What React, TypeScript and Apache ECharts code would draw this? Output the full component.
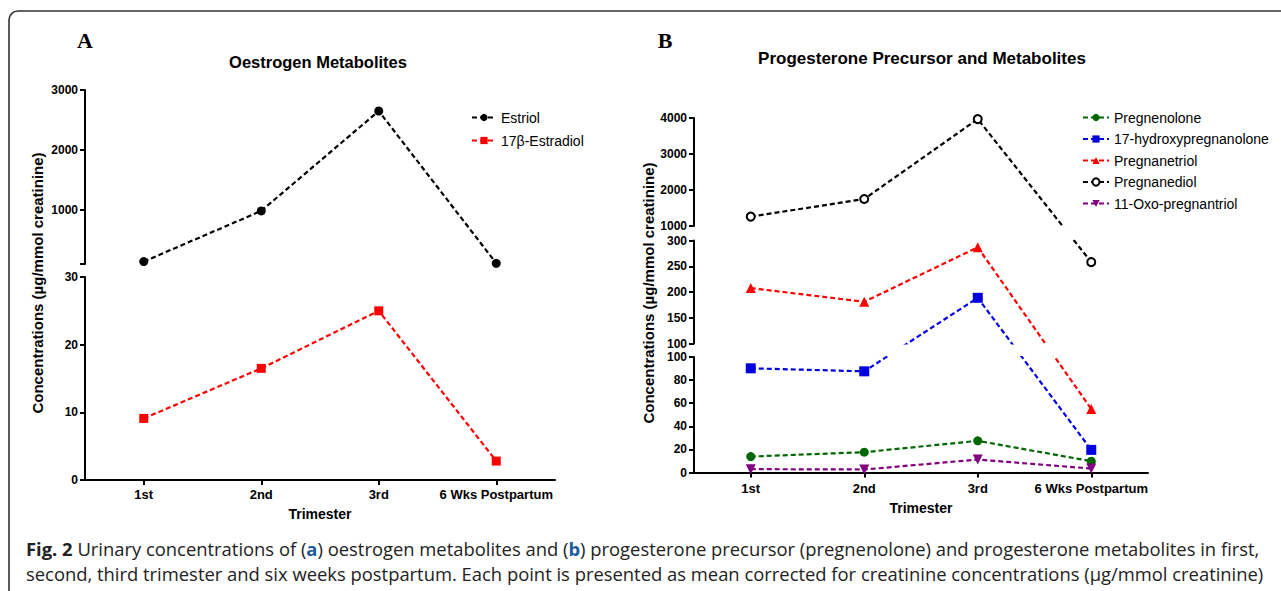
import React, { useEffect, useRef } from "react";
import * as echarts from "echarts";

// ---------------- data ----------------
const categories = ["1st", "2nd", "3rd", "6 Wks Postpartum"];

// Panel A (µg/mmol creatinine)
const estriol = [140, 985, 2650, 112];
const estradiol = [9.1, 16.5, 25.0, 2.8];

// Panel B (µg/mmol creatinine)
const pregnenolone = [13.8, 17.6, 27.4, 9.8];
const hydroxyPregnanolone = [90.2, 87.6, 188.7, 19.6];
const pregnanetriol = [207.6, 181, 286.8, 55];
const pregnanediol = [1260, 1750, 3970, 258];
const oxoPregnantriol = [2.9, 2.6, 11.2, 3.4];

// broken-axis segments: [min, max], tick values, labelled values
const segAUpper = { min: 100, max: 3000, ticks: [100, 1000, 2000, 3000], labels: [1000, 2000, 3000] };
const segALower = { min: 0, max: 30, ticks: [0, 10, 20, 30], labels: [0, 10, 20, 30] };
const segBTop = { min: 1000, max: 4000, ticks: [1000, 2000, 3000, 4000], labels: [1000, 2000, 3000, 4000] };
const segBMid = { min: 100, max: 300, ticks: [100, 150, 200, 250, 300], labels: [100, 150, 200, 250, 300] };
const segBBottom = { min: 0, max: 100, ticks: [0, 20, 40, 60, 80, 100], labels: [0, 20, 40, 60, 80, 100] };

const SANS = "'Liberation Sans', Arial, sans-serif";
const CAPTION = "'Open Sans', sans-serif";

type Seg = { min: number; max: number; ticks: number[]; labels: number[] };

const panels = [
  {
    segs: [segAUpper, segALower],
    grids: [
      { left: 85, width: 470, top: 90, height: 174 },
      { left: 85, width: 470, top: 277, height: 203 },
    ],
    series: [
      { name: "Estriol", data: estriol, color: "#000000", symbol: "circle", size: 9 },
      { name: "17β-Estradiol", data: estradiol, color: "#ff0000", symbol: "rect", size: 9 },
    ],
    nameGap: 27,
    labelMargin: 8,
  },
  {
    segs: [segBTop, segBMid, segBBottom],
    grids: [
      { left: 694, width: 454, top: 118, height: 108 },
      { left: 694, width: 454, top: 240.5, height: 103 },
      { left: 694, width: 454, top: 357, height: 115.5 },
    ],
    series: [
      { name: "Pregnenolone", data: pregnenolone, color: "#006600", symbol: "circle", size: 9 },
      { name: "17-hydroxypregnanolone", data: hydroxyPregnanolone, color: "#0000e0", symbol: "rect", size: 10 },
      { name: "Pregnanetriol", data: pregnanetriol, color: "#ff0000", symbol: "triangle", size: 10 },
      { name: "Pregnanediol", data: pregnanediol, color: "#000000", symbol: "emptyCircle", size: 8 },
      { name: "11-Oxo-pregnantriol", data: oxoPregnantriol, color: "#800080", symbol: "triangle", size: 10, rotate: 180 },
    ],
    nameGap: 28,
    labelMargin: 9,
  },
];

export default function App() {
  const ref = useRef<HTMLDivElement>(null);

  useEffect(() => {
    if (!ref.current) return;
    const chart = echarts.init(ref.current, undefined, { renderer: "svg" });

    const grids: any[] = [];
    const xAxes: any[] = [];
    const yAxes: any[] = [];
    const panelGridIdx: number[][] = [];

    panels.forEach((p) => {
      const idxs: number[] = [];
      p.grids.forEach((g, k) => {
        const gi = grids.length;
        idxs.push(gi);
        grids.push({ left: g.left, top: g.top, width: g.width, height: g.height, containLabel: false });
        const isBottom = k === p.grids.length - 1;
        xAxes.push({
          type: "category",
          gridIndex: gi,
          data: categories,
          boundaryGap: true,
          show: isBottom,
          axisLine: { show: true, lineStyle: { color: "#000", width: 2 } },
          axisTick: { show: true, alignWithLabel: true, length: 5, lineStyle: { color: "#000", width: 2 } },
          axisLabel: {
            interval: 0,
            color: "#000",
            fontFamily: SANS,
            fontWeight: "bold",
            fontSize: 13,
            margin: p.labelMargin,
          },
          name: "Trimester",
          nameLocation: "middle",
          nameGap: p.nameGap,
          nameTextStyle: { color: "#000", fontFamily: SANS, fontWeight: "bold", fontSize: 14 },
          splitLine: { show: false },
        });
        const s: Seg = p.segs[k];
        yAxes.push({
          type: "value",
          gridIndex: gi,
          min: s.min,
          max: s.max,
          axisLine: { show: true, lineStyle: { color: "#000", width: 2 } },
          axisTick: { show: true, length: 5, customValues: s.ticks, lineStyle: { color: "#000", width: 2 } },
          axisLabel: {
            customValues: s.labels,
            formatter: (v: number) => String(v),
            color: "#000",
            fontFamily: SANS,
            fontWeight: "bold",
            fontSize: 12,
            margin: 7,
          },
          splitLine: { show: false },
        });
      });
      panelGridIdx.push(idxs);
    });

    const graphic: any[] = [
      {
        type: "rect",
        shape: { x: 9, y: 11, width: 1400, height: 700, r: 9 },
        style: { fill: "none", stroke: "#333", lineWidth: 1.6 },
        silent: true,
      },
      { type: "text", x: 85, y: 40, style: { text: "A", font: "bold 22px 'Liberation Serif', 'Times New Roman', serif", fill: "#000", align: "center", verticalAlign: "middle" } },
      { type: "text", x: 665, y: 40, style: { text: "B", font: "bold 22px 'Liberation Serif', 'Times New Roman', serif", fill: "#000", align: "center", verticalAlign: "middle" } },
      { type: "text", x: 318, y: 62, style: { text: "Oestrogen Metabolites", font: `bold 16.5px ${SANS}`, fill: "#000", align: "center", verticalAlign: "middle" } },
      { type: "text", x: 922, y: 58, style: { text: "Progesterone Precursor and Metabolites", font: `bold 17px ${SANS}`, fill: "#000", align: "center", verticalAlign: "middle" } },
      { type: "text", x: 37, y: 283, rotation: Math.PI / 2, style: { text: "Concentrations (µg/mmol creatinine)", font: `bold 15px ${SANS}`, fill: "#000", align: "center", verticalAlign: "middle" } },
      { type: "text", x: 648, y: 293, rotation: Math.PI / 2, style: { text: "Concentrations (µg/mmol creatinine)", font: `bold 15px ${SANS}`, fill: "#000", align: "center", verticalAlign: "middle" } },
      {
        type: "text",
        x: 26,
        y: 548,
        style: {
          text: "{b|Fig. 2} Urinary concentrations of ({l|a}) oestrogen metabolites and ({l|b}) progesterone precursor (pregnenolone) and progesterone metabolites in first,",
          font: `18.4px ${CAPTION}`,
          fill: "#222",
          verticalAlign: "middle",
          rich: {
            b: { font: `bold 18.4px ${CAPTION}`, fill: "#222" },
            l: { font: `bold 18.4px ${CAPTION}`, fill: "#1d5c9b" },
          },
        },
      },
      {
        type: "text",
        x: 26,
        y: 573,
        style: {
          text: "second, third trimester and six weeks postpartum. Each point is presented as mean corrected for creatinine concentrations (µg/mmol creatinine)",
          font: `18.4px ${CAPTION}`,
          fill: "#222",
          verticalAlign: "middle",
        },
      },
    ];

    const legendText = { color: "#000", fontFamily: SANS, fontSize: 14 };
    const legends = [
      {
        orient: "vertical",
        left: 471,
        top: 110,
        padding: 0,
        itemWidth: 24,
        itemHeight: 9,
        itemGap: 8,
        textStyle: { ...legendText, lineHeight: 15 },
        data: panels[0].series.map((s) => s.name),
        selectedMode: false,
      },
      {
        orient: "vertical",
        left: 1082,
        top: 110,
        padding: 0,
        itemWidth: 26,
        itemHeight: 9,
        itemGap: 6.5,
        textStyle: { ...legendText, lineHeight: 15 },
        data: panels[1].series.map((s) => s.name),
        selectedMode: false,
      },
    ];

    chart.setOption({
      animation: false,
      backgroundColor: "#fff",
      grid: grids,
      xAxis: xAxes,
      yAxis: yAxes,
      graphic,
      legend: legends,
      series: [],
    });

    // Map each value through the library's axis of its own segment, then back through
    // every other segment's axis so the line stays straight across the axis breaks.
    const series: any[] = [];
    panels.forEach((p, pi) => {
      const idxs = panelGridIdx[pi];
      p.series.forEach((s) => {
        const owner = s.data.map((v) => {
          let k = p.segs.findIndex((sg) => v >= sg.min && v <= sg.max);
          if (k < 0) k = 0;
          return k;
        });
        const pixels = s.data.map((v, i) => chart.convertToPixel({ yAxisIndex: idxs[owner[i]] } as any, v) as any as number);
        idxs.forEach((gi, k) => {
          const data = s.data.map((v, i) => {
            if (owner[i] === k) return { value: v };
            const val = chart.convertFromPixel({ yAxisIndex: gi } as any, pixels[i]) as any as number;
            return { value: val, symbol: "none" };
          });
          const empty = s.symbol === "emptyCircle";
          series.push({
            type: "line",
            name: s.name,
            xAxisIndex: gi,
            yAxisIndex: gi,
            data,
            clip: true,
            symbol: s.symbol,
            symbolSize: s.size,
            symbolRotate: (s as any).rotate || 0,
            showSymbol: true,
            color: s.color,
            itemStyle: empty ? { color: s.color, borderWidth: 2.6 } : { color: s.color },
            lineStyle: { color: s.color, width: 2.2, type: [5, 3] },
            emphasis: { disabled: true },
            z: 3,
          });
        });
      });
    });

    chart.setOption({ series });

    return () => chart.dispose();
  }, []);

  return <div ref={ref} style={{ position: "absolute", left: 0, top: 0, width: 1281, height: 591 }} />;
}
